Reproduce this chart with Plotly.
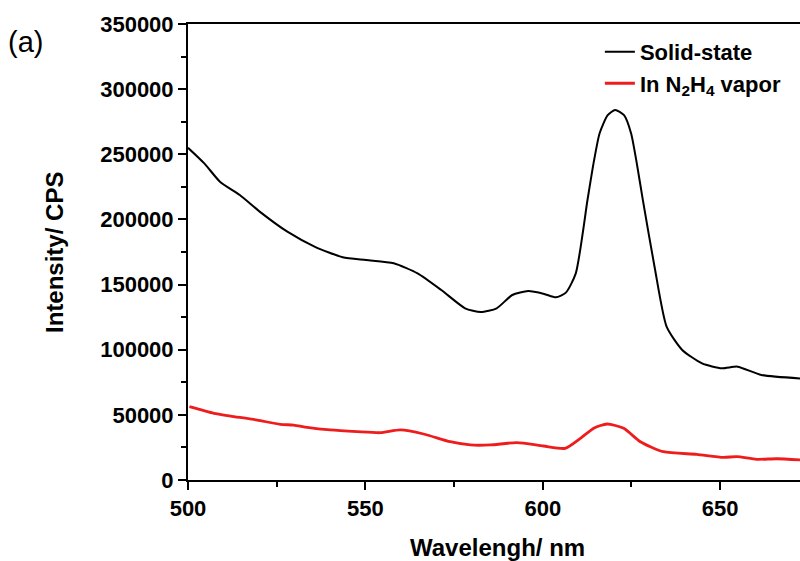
import plotly.graph_objects as go

# Solid-state (black) spectrum
solid_x = [500.0, 504.6, 509.0, 514.6, 520.2, 528.0, 535.8, 543.6, 550.2, 558.0, 564.7,
           571.4, 578.1, 582.5, 587.0, 591.4, 595.9, 600.4, 603.7, 606.5, 609.3, 612.6,
           614.3, 616.0, 618.3, 620.4, 622.9, 624.9, 626.5, 628.2, 631.5, 634.9, 639.3,
           644.9, 650.5, 654.9, 661.6, 672.5]
solid_y = [255000, 243000, 229000, 218700, 206000, 190600, 179000, 171000, 168800, 166300, 158600,
           145800, 131800, 128900, 131800, 142000, 145000, 142800, 140200, 143800, 158600, 214900,
           243000, 266000, 280000, 284000, 280000, 266000, 243000, 215000, 163700, 117700, 99800,
           89500, 85700, 87000, 80600, 78000]

# In N2H4 vapor (red) spectrum
vapor_x = [500.4, 507.3, 512.0, 519.5, 526.0, 529.8, 533.6, 540.1, 547.7, 554.2, 559.9, 566.4,
           573.9, 579.6, 585.2, 592.7, 600.2, 606.3, 610.6, 614.5, 618.1, 622.8, 627.5, 634.0,
           643.4, 650.9, 654.7, 660.3, 665.9, 672.5]
vapor_y = [56300, 51200, 49100, 46000, 42700, 42200, 40400, 38400, 37100, 36300, 38400, 35300,
           29400, 26900, 26900, 28700, 26100, 24300, 32000, 40000, 43000, 39700, 29400, 21700,
           19700, 17400, 17900, 15900, 16300, 15400]

x_ticks = [500, 550, 600, 650]
y_ticks = [0, 50000, 100000, 150000, 200000, 250000, 300000, 350000]

FONT = "Liberation Sans, Arial, sans-serif"

fig = go.Figure()
fig.add_trace(go.Scatter(x=solid_x, y=solid_y, mode="lines", name="Solid-state",
                         line=dict(color="black", width=2, shape="spline", smoothing=0.6),
                         legendgroup="a"))
fig.add_trace(go.Scatter(x=vapor_x, y=vapor_y, mode="lines", name="In N<sub>2</sub>H<sub>4</sub> vapor",
                         line=dict(color="#ee1c1c", width=2.8, shape="spline", smoothing=0.6),
                         legendgroup="b"))

axis_font = dict(family=FONT, size=22, color="black", weight="bold")

fig.update_layout(
    width=800, height=561,
    margin=dict(l=188, r=0, t=24, b=81),
    paper_bgcolor="white", plot_bgcolor="white",
    showlegend=True,
    legend=dict(x=0.673, y=0.985, xanchor="left", yanchor="top",
                font=dict(family=FONT, size=22, color="black", weight="bold"),
                bgcolor="rgba(0,0,0,0)", tracegroupgap=0),
    xaxis=dict(range=[500, 672.5], tickvals=x_ticks, ticktext=[str(v) for v in x_ticks],
               showline=True, linecolor="black", linewidth=2, mirror=True,
               ticks="outside", ticklen=8, tickwidth=2, tickcolor="black",
               minor=dict(dtick=25, ticks="outside", ticklen=5, tickwidth=2, tickcolor="black"),
               showgrid=False, zeroline=False, tickfont=axis_font),
    yaxis=dict(range=[0, 350000], tickvals=y_ticks, ticktext=[str(v) for v in y_ticks],
               showline=True, linecolor="black", linewidth=2,
               ticks="outside", ticklen=8, tickwidth=2, tickcolor="black",
               minor=dict(dtick=25000, ticks="outside", ticklen=5, tickwidth=2, tickcolor="black"),
               showgrid=False, zeroline=False, tickfont=axis_font),
    annotations=[
        dict(text="Intensity/ CPS", xref="paper", yref="paper", x=-0.219, y=0.5,
             textangle=-90, showarrow=False, xanchor="center", yanchor="middle",
             font=dict(family=FONT, size=24, color="black", weight="bold")),
        dict(text="Wavelengh/ nm", xref="paper", yref="paper", x=0.5065, y=-0.147,
             showarrow=False, xanchor="center", yanchor="middle",
             font=dict(family=FONT, size=24, color="black", weight="bold")),
        dict(text="(a)", xref="paper", yref="paper", x=-0.266, y=0.9605,
             showarrow=False, xanchor="center", yanchor="middle",
             font=dict(family=FONT, size=29, color="black")),
    ],
)

fig.write_html("out.html")
